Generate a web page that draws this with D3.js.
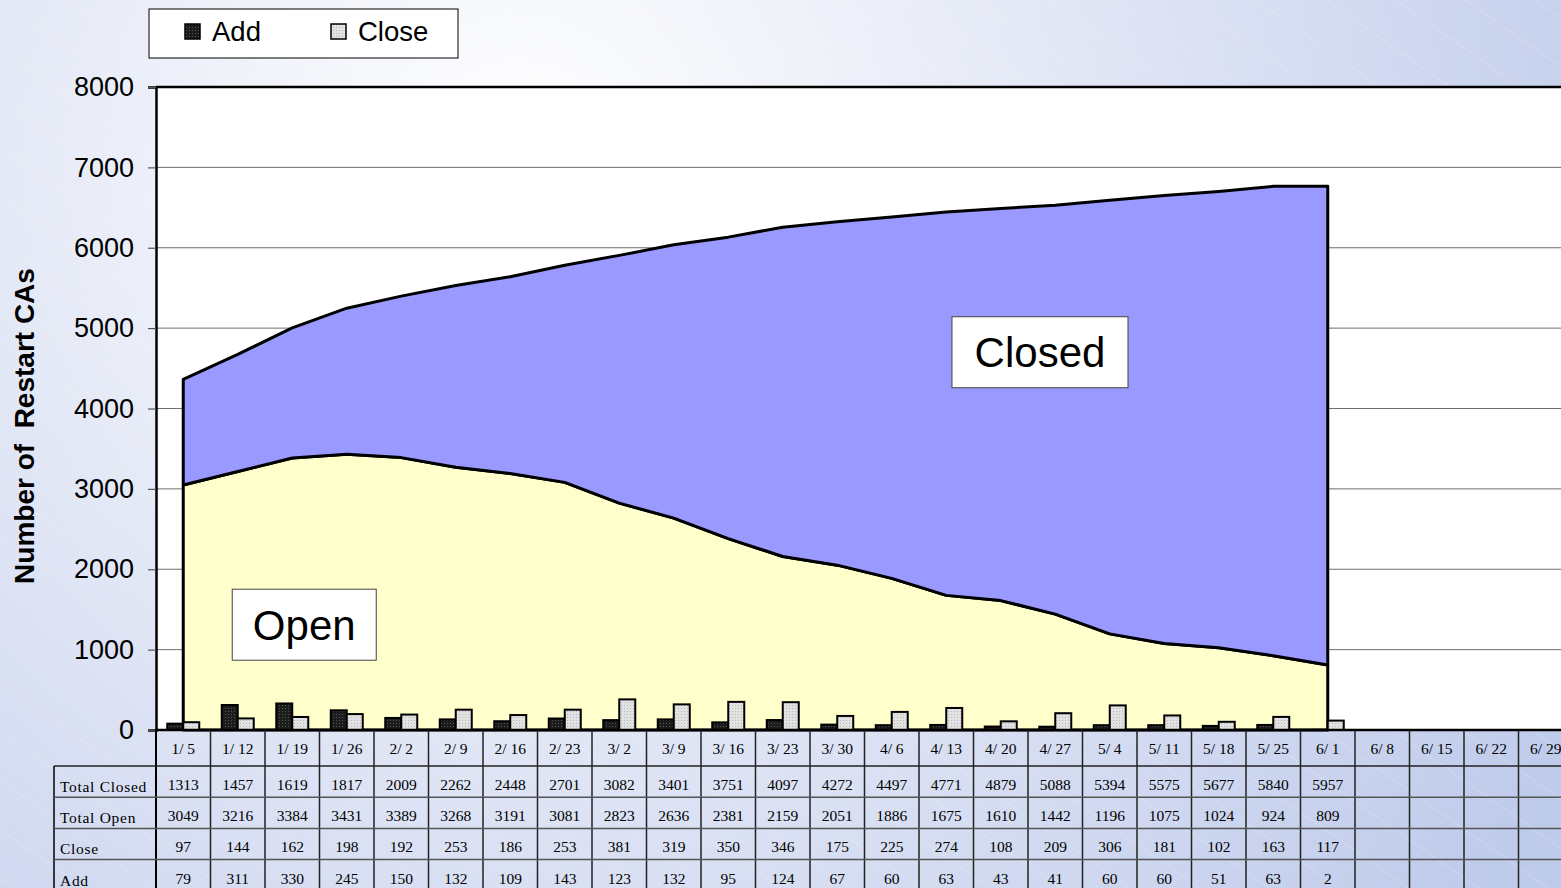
<!DOCTYPE html>
<html>
<head>
<meta charset="utf-8">
<script src="https://cdn.jsdelivr.net/npm/d3@7"></script>
<style>
  html, body { margin: 0; padding: 0; overflow: hidden; }
  svg { display: block; }
</style>
</head>
<body>
<div id="chart"></div>
<script>
const dates = ["1/ 5", "1/ 12", "1/ 19", "1/ 26", "2/ 2", "2/ 9", "2/ 16", "2/ 23", "3/ 2", "3/ 9",
    "3/ 16", "3/ 23", "3/ 30", "4/ 6", "4/ 13", "4/ 20", "4/ 27", "5/ 4", "5/ 11", "5/ 18",
    "5/ 25", "6/ 1", "6/ 8", "6/ 15", "6/ 22", "6/ 29"];
const totalClosed = [1313, 1457, 1619, 1817, 2009, 2262, 2448, 2701, 3082, 3401, 3751, 4097,
    4272, 4497, 4771, 4879, 5088, 5394, 5575, 5677, 5840, 5957];
const totalOpen = [3049, 3216, 3384, 3431, 3389, 3268, 3191, 3081, 2823, 2636, 2381, 2159,
    2051, 1886, 1675, 1610, 1442, 1196, 1075, 1024, 924, 809];
const closeVals = [97, 144, 162, 198, 192, 253, 186, 253, 381, 319, 350, 346, 175, 225, 274,
    108, 209, 306, 181, 102, 163, 117];
const addVals = [79, 311, 330, 245, 150, 132, 109, 143, 123, 132, 95, 124, 67, 60, 63, 43,
    41, 60, 60, 51, 63, 2];
const yTicks = [0, 1000, 2000, 3000, 4000, 5000, 6000, 7000, 8000];
const rowNames = ["Total Closed", "Total Open", "Close", "Add"];

const width = 1561, height = 888;
const sans = "'Liberation Sans', Arial, sans-serif";
const serif = "'Liberation Serif', 'Times New Roman', serif";

const svg = d3.select("#chart").append("svg")
    .attr("width", width)
    .attr("height", height);

const defs = svg.append("defs");
const bg = defs.append("radialGradient").attr("id", "bg")
    .attr("gradientUnits", "userSpaceOnUse")
    .attr("cx", 520).attr("cy", 160).attr("r", 1200);
bg.append("stop").attr("offset", "0").attr("stop-color", "#ffffff");
bg.append("stop").attr("offset", "0.3").attr("stop-color", "#edf0f9");
bg.append("stop").attr("offset", "1").attr("stop-color", "#bfcbeb");

const stripes = defs.append("pattern").attr("id", "stripes")
    .attr("patternUnits", "userSpaceOnUse")
    .attr("width", 40).attr("height", 40)
    .attr("patternTransform", "rotate(-55)");
stripes.append("line").attr("x1", 0).attr("y1", 0).attr("x2", 0).attr("y2", 40)
    .attr("stroke", "#ffffff").attr("stroke-width", 1).attr("stroke-opacity", 0.35);

const darkDots = defs.append("pattern").attr("id", "darkDots")
    .attr("patternUnits", "userSpaceOnUse").attr("width", 3).attr("height", 3);
darkDots.append("rect").attr("width", 3).attr("height", 3).attr("fill", "#1c1c1c");
darkDots.append("rect").attr("width", 1).attr("height", 1).attr("fill", "#555");

const lightDots = defs.append("pattern").attr("id", "lightDots")
    .attr("patternUnits", "userSpaceOnUse").attr("width", 3).attr("height", 3);
lightDots.append("rect").attr("width", 3).attr("height", 3).attr("fill", "#e2e2e2");
lightDots.append("rect").attr("width", 1).attr("height", 1).attr("fill", "#b8b8b8");

svg.append("rect").attr("width", width).attr("height", height).attr("fill", "url(#bg)");
svg.append("rect").attr("width", width).attr("height", height).attr("fill", "url(#stripes)");

// the plot runs past the right edge of the page, as in the original slide
const plotLeft = 156, plotRight = 1573, plotTop = 87, plotBottom = 730;

const x = d3.scaleBand().domain(dates).range([plotLeft, plotRight]);
const y = d3.scaleLinear().domain([0, 8000]).range([plotBottom, plotTop]);
const cx = d => x(d) + x.bandwidth() / 2;

// plot background
svg.append("rect")
    .attr("x", plotLeft).attr("y", plotTop)
    .attr("width", plotRight - plotLeft).attr("height", plotBottom - plotTop)
    .attr("fill", "#ffffff");

// gridlines
svg.append("g").selectAll("line")
    .data(yTicks.filter(t => t > 0 && t < 8000))
    .enter().append("line")
    .attr("x1", plotLeft).attr("x2", plotRight)
    .attr("y1", d => y(d)).attr("y2", d => y(d))
    .attr("stroke", "#6e6e6e").attr("stroke-width", 1);

// stacked areas
const rows = totalOpen.map((v, i) => ({ date: dates[i], open: v, closed: totalClosed[i] }));
const series = d3.stack().keys(["open", "closed"])(rows);
const area = d3.area()
    .x(d => cx(d.data.date))
    .y0(d => y(d[0]))
    .y1(d => y(d[1]));
const areaColors = { open: "#ffffcc", closed: "#9999ff" };

svg.append("g").selectAll("path")
    .data(series)
    .enter().append("path")
    .attr("d", area)
    .attr("fill", d => areaColors[d.key])
    .attr("stroke", "#000")
    .attr("stroke-width", 3)
    .attr("stroke-linejoin", "round");

// label boxes
const labels = [
    { text: "Closed", cx: x(dates[15]) + x.bandwidth() * 1.22, cy: y(4700), w: 176, h: 71 },
    { text: "Open", cx: x(dates[2]) + x.bandwidth() * 0.72, cy: y(1310), w: 144, h: 71 }
];
const lab = svg.append("g").selectAll("g").data(labels).enter().append("g");
lab.append("rect")
    .attr("x", d => d.cx - d.w / 2).attr("y", d => d.cy - d.h / 2)
    .attr("width", d => d.w).attr("height", d => d.h)
    .attr("fill", "#fff").attr("stroke", "#444").attr("stroke-width", 1);
lab.append("text")
    .attr("x", d => d.cx).attr("y", d => d.cy + 15)
    .attr("text-anchor", "middle")
    .attr("font-family", sans).attr("font-size", 42)
    .text(d => d.text);

// bars
const barW = 16;
const bars = svg.append("g");
bars.selectAll("rect.add")
    .data(addVals)
    .enter().append("rect")
    .attr("class", "add")
    .attr("x", (d, i) => cx(dates[i]) - barW)
    .attr("y", d => y(d))
    .attr("width", barW)
    .attr("height", d => plotBottom - y(d))
    .attr("fill", "url(#darkDots)")
    .attr("stroke", "#000").attr("stroke-width", 2);
bars.selectAll("rect.close")
    .data(closeVals)
    .enter().append("rect")
    .attr("class", "close")
    .attr("x", (d, i) => cx(dates[i]))
    .attr("y", d => y(d))
    .attr("width", barW)
    .attr("height", d => plotBottom - y(d))
    .attr("fill", "url(#lightDots)")
    .attr("stroke", "#000").attr("stroke-width", 2);

// axes frame
svg.append("line")
    .attr("x1", plotLeft).attr("x2", plotRight)
    .attr("y1", plotTop).attr("y2", plotTop)
    .attr("stroke", "#000").attr("stroke-width", 2.5);
svg.append("line")
    .attr("x1", plotLeft).attr("x2", plotRight)
    .attr("y1", plotBottom).attr("y2", plotBottom)
    .attr("stroke", "#000").attr("stroke-width", 2.5);

const yAxis = svg.append("g")
    .attr("transform", `translate(${plotLeft},0)`)
    .call(d3.axisLeft(y).tickValues(yTicks).tickSize(8).tickPadding(14).tickFormat(d3.format("d")));
yAxis.select(".domain").attr("stroke", "#000").attr("stroke-width", 2.5);
yAxis.selectAll(".tick line").attr("stroke", "#555").attr("stroke-width", 1.2);
yAxis.selectAll(".tick text")
    .attr("font-family", sans).attr("font-size", 27).attr("fill", "#000");

svg.append("text")
    .attr("transform", "translate(34,426) rotate(-90)")
    .attr("text-anchor", "middle")
    .attr("font-family", sans).attr("font-size", 28).attr("font-weight", "bold")
    .attr("xml:space", "preserve")
    .text("Number of  Restart CAs");

// data table
const headerBottom = 766, rowH = 31.2, tableLeft = 54;
const table = svg.append("g");
const rowData = [totalClosed, totalOpen, closeVals, addVals];

table.selectAll("line.col")
    .data(dates.slice(1))
    .enter().append("line")
    .attr("x1", d => x(d)).attr("x2", d => x(d))
    .attr("y1", plotBottom).attr("y2", height)
    .attr("stroke", "#222").attr("stroke-width", 1.5);
table.append("line")
    .attr("x1", plotLeft).attr("x2", plotLeft)
    .attr("y1", plotBottom).attr("y2", height)
    .attr("stroke", "#000").attr("stroke-width", 2);
table.append("line")
    .attr("x1", tableLeft).attr("x2", tableLeft)
    .attr("y1", headerBottom).attr("y2", height)
    .attr("stroke", "#000").attr("stroke-width", 1.5);
table.selectAll("line.row")
    .data(d3.range(rowNames.length))
    .enter().append("line")
    .attr("x1", tableLeft).attr("x2", plotRight)
    .attr("y1", i => headerBottom + i * rowH)
    .attr("y2", i => headerBottom + i * rowH)
    .attr("stroke", i => i === 0 ? "#222" : "#555").attr("stroke-width", 1.5);

table.selectAll("text.date")
    .data(dates)
    .enter().append("text")
    .attr("x", d => cx(d)).attr("y", 754)
    .attr("text-anchor", "middle")
    .attr("font-family", serif).attr("font-size", 15.5)
    .attr("xml:space", "preserve")
    .text(d => d);

table.selectAll("text.rowname")
    .data(rowNames)
    .enter().append("text")
    .attr("x", 60).attr("y", (d, i) => headerBottom + i * rowH + 26)
    .attr("font-family", serif).attr("font-size", 15.5)
    .attr("letter-spacing", 0.7)
    .text(d => d);

rowData.forEach((vals, r) => {
    table.append("g").selectAll("text")
        .data(vals)
        .enter().append("text")
        .attr("x", (d, i) => cx(dates[i]))
        .attr("y", headerBottom + r * rowH + 24)
        .attr("text-anchor", "middle")
        .attr("font-family", serif).attr("font-size", 15.5)
        .text(d => d);
});

// legend
const legend = svg.append("g");
legend.append("rect")
    .attr("x", 149).attr("y", 9).attr("width", 309).attr("height", 49)
    .attr("fill", "#fff").attr("stroke", "#000").attr("stroke-width", 1);
const legendItems = [
    { name: "Add", fill: "url(#darkDots)", x: 185 },
    { name: "Close", fill: "url(#lightDots)", x: 331 }
];
const li = legend.selectAll("g.item").data(legendItems).enter().append("g");
li.append("rect")
    .attr("x", d => d.x).attr("y", 24).attr("width", 15).attr("height", 15)
    .attr("fill", d => d.fill).attr("stroke", "#000").attr("stroke-width", 1.5);
li.append("text")
    .attr("x", d => d.x + 27).attr("y", 41)
    .attr("font-family", sans).attr("font-size", 27.5)
    .text(d => d.name);
</script>
</body>
</html>
